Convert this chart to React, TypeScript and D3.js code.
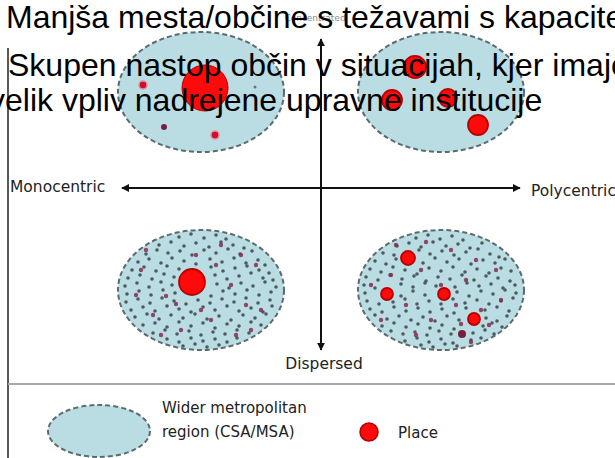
import * as d3 from 'd3';

const W = 615;
const H = 458;

// Title lines (overlaid on the diagram in the source picture)
const TITLE_LINES = [
  { text: 'Manjša mesta/občine s težavami s kapacitetami', x: 6, y: 28 },
  { text: 'Skupen nastop občin v situacijah, kjer imajo', x: 8, y: 76 },
  { text: 'velik vpliv nadrejene upravne institucije', x: -11, y: 111 },
];

// Axis labels
const AXIS_LABELS = { left: 'Monocentric', right: 'Polycentric', top: 'Concentrated', bottom: 'Dispersed' };

// Quadrants: qx -1 = monocentric, +1 = polycentric; qy +1 = concentrated, -1 = dispersed
const PANELS = [
  { id: 'mc', qx: -1, qy: 1 },
  { id: 'pc', qx: 1, qy: 1 },
  { id: 'md', qx: -1, qy: -1 },
  { id: 'pd', qx: 1, qy: -1 },
];

// Places (red circles): [dx, dy, radius] relative to panel centre
const PLACES: Record<string, number[][]> = {
  mc: [[4, -4, 23]],
  pc: [[-26, -25, 11], [-49, 8, 10], [7, 6, 9], [37, 33, 10]],
  md: [[-9, -8, 13]],
  pd: [[-33, -32, 7], [-54, 4, 6], [3, 4, 6], [33, 29, 6]],
};

// Minor places: [dx, dy, r, kind]
const MINOR_MC = [
  [-58, -7, 4, 'red'],
  [-37, 35, 3, 'maroon'],
  [14, 43, 4, 'red'],
  [54, -5, 1.5, 'grey'],
];
const MINOR_PD = [[21, 44, 4, 'maroon']];

// Scattered small settlements in the dispersed regions
const DOTS_MD = [
  [-22, -53], [-10, -56], [3, -52], [15, -55], [25, -51],
  [-42, -45], [-30, -48], [-17, -44], [-5, -47], [8, -43], [20, -48], [32, -45], [43, -42],
  [-55, -36], [-44, -40], [-33, -37], [-21, -39], [-9, -35], [3, -40], [15, -37], [27, -41], [39, -36], [51, -39],
  [-63, -28], [-52, -31], [-40, -27], [-29, -32], [-17, -29], [-5, -26], [9, -31], [21, -28], [33, -32], [45, -27], [57, -30], [64, -25],
  [-69, -20], [-57, -23], [-45, -19], [-34, -24], [-22, -21], [10, -23], [22, -19], [34, -22], [46, -24], [58, -20], [68, -17],
  [-73, -12], [-61, -15], [-49, -11], [-37, -16], [-27, -13], [14, -15], [26, -11], [38, -14], [50, -17], [62, -12], [72, -10],
  [-76, -4], [-64, -7], [-52, -3], [-40, -8], [-29, -5], [16, -6], [28, -2], [40, -7], [52, -4], [64, -8], [75, -3],
  [-74, 4], [-62, 1], [-50, 5], [-38, 0], [-26, 3], [10, 6], [22, 1], [34, 4], [46, 0], [58, 5], [70, 2],
  [-75, 12], [-63, 9], [-51, 13], [-39, 8], [-27, 11], [-15, 14], [-3, 10], [9, 13], [21, 9], [33, 12], [45, 8], [57, 13], [69, 10],
  [-70, 20], [-58, 17], [-46, 21], [-34, 16], [-22, 19], [-10, 22], [2, 17], [14, 20], [26, 16], [38, 21], [50, 18], [62, 22], [71, 16],
  [-66, 27], [-54, 24], [-42, 29], [-30, 25], [-18, 28], [-6, 24], [6, 29], [18, 26], [30, 30], [42, 25], [54, 28], [65, 24],
  [-58, 35], [-46, 33], [-34, 37], [-22, 32], [-10, 36], [2, 33], [14, 38], [26, 34], [38, 36], [50, 32], [60, 35],
  [-48, 43], [-36, 40], [-24, 44], [-12, 41], [0, 45], [12, 42], [24, 44], [36, 40], [48, 43],
  [-34, 49], [-22, 52], [-10, 48], [2, 51], [14, 49], [26, 52], [36, 48],
  [-18, 56], [-6, 54], [6, 57], [18, 55],
];
const MAROON_MD = [
  [-60, -20], [-35, 6], [-48, 25], [-20, 40], [10, 30], [30, -5], [45, 15], [55, -25], [-5, -35], [20, -45],
  [-40, 45], [60, 20], [-65, 5], [35, 45], [0, 20], [15, -25], [-25, 14], [50, 40], [-55, -40], [40, -35],
];

const DOTS_PD = [
  [-25, -52], [-13, -55], [-1, -51], [11, -54], [22, -50],
  [-44, -44], [-32, -47], [-20, -43], [-8, -48], [5, -44], [17, -46], [29, -42], [41, -47],
  [-58, -37], [-47, -35], [-22, -40], [-11, -36], [1, -39], [13, -35], [25, -38], [37, -41], [49, -36], [58, -33],
  [-66, -29], [-55, -26], [-45, -31], [-18, -27], [-6, -32], [6, -28], [18, -31], [30, -26], [42, -30], [54, -27], [64, -31],
  [-71, -21], [-60, -18], [-48, -23], [-36, -20], [-24, -16], [-12, -22], [0, -19], [12, -23], [24, -18], [36, -21], [48, -17], [60, -22], [70, -19],
  [-75, -13], [-63, -10], [-51, -15], [-39, -11], [-27, -14], [-15, -9], [-3, -13], [9, -11], [21, -15], [33, -10], [45, -14], [57, -12], [69, -9],
  [-77, -5], [-66, -2], [-40, -6], [-28, -3], [-16, -7], [-5, -4], [14, -3], [26, -7], [38, -4], [50, -6], [62, -2], [74, -5],
  [-76, 3], [-40, 6], [-28, 1], [-16, 5], [16, 2], [28, 6], [40, 1], [52, 4], [64, 0], [75, 3],
  [-74, 11], [-62, 14], [-48, 12], [-36, 9], [-24, 14], [-12, 11], [0, 14], [12, 9], [24, 13], [36, 10], [48, 14], [60, 11], [72, 8],
  [-71, 19], [-59, 22], [-47, 17], [-35, 21], [-23, 18], [-11, 22], [1, 19], [13, 23], [25, 18], [44, 20], [56, 17], [68, 21],
  [-66, 25], [-54, 29], [-42, 26], [-30, 30], [-18, 27], [-6, 31], [6, 26], [18, 30], [45, 28], [56, 31], [66, 26],
  [-59, 36], [-47, 33], [-35, 37], [-23, 34], [-11, 38], [1, 35], [13, 39], [42, 36], [51, 33], [61, 37],
  [-50, 41], [-38, 44], [-26, 42], [-14, 45], [-2, 41], [10, 44], [32, 43], [44, 40], [53, 44],
  [-36, 51], [-24, 48], [-12, 52], [0, 49], [12, 53], [30, 50], [40, 48],
  [-20, 55], [-8, 57], [4, 54], [16, 56],
];
const MAROON_PD = [
  [-50, -15], [-20, -20], [10, -40], [25, -10], [-35, 15], [40, 20], [-10, 30], [55, -20], [20, 34], [-60, 30],
  [-45, -45], [0, -5], [35, -30], [60, 10], [-25, 45], [15, 15], [-70, -5], [48, 35], [-15, -48], [30, 52],
];

const LEGEND = [
  { kind: 'region', lines: ['Wider metropolitan', 'region (CSA/MSA)'] },
  { kind: 'place', lines: ['Place'] },
];

const REGION_FILL = '#b9dde3';
const REGION_STROKE = '#5c6b70';
const PLACE_FILL = '#ff0a0a';
const PLACE_STROKE = '#b80000';
const LABEL_FONT = '"DejaVu Sans", Verdana, sans-serif';
const TITLE_FONT = '"Liberation Sans", Arial, sans-serif';

const MINOR_COLORS: Record<string, string> = { red: '#c8102e', maroon: '#7a1e3e', grey: '#6b7478' };

// axes of the diagram
const ORIGIN_X = 321;
const ORIGIN_Y = 188;
const xAxis = d3.scaleLinear().domain([-1, 1]).range([122, 520]);
const yAxis = d3.scaleLinear().domain([-1, 1]).range([350, 39]);
const PANEL_DX = 120;
const PANEL_UP = 96;
const PANEL_DOWN = 102;
const RX = 83;
const RY = 60;

function Region({ cx, cy }: { cx: number; cy: number }) {
  return (
    <ellipse cx={cx} cy={cy} rx={RX} ry={RY} fill={REGION_FILL} stroke={REGION_STROKE}
      strokeWidth={2} strokeDasharray="5 3" />
  );
}

export default function App() {
  const panelCentre = (p: { qx: number; qy: number }) => ({
    cx: ORIGIN_X + p.qx * PANEL_DX,
    cy: p.qy > 0 ? ORIGIN_Y - PANEL_UP : ORIGIN_Y + PANEL_DOWN,
  });

  return (
    <svg width={W} height={H} style={{ position: 'absolute', left: 0, top: 0, background: '#fff' }}>
      <defs>
        <marker id="arrow" viewBox="0 0 10 10" refX="9" refY="5" markerWidth="4" markerHeight="4" orient="auto-start-reverse">
          <path d="M0,0 L10,5 L0,10 z" fill="#111" />
        </marker>
      </defs>
      <rect width={W} height={H} fill="#fff" />

      {PANELS.map((p) => {
        const { cx, cy } = panelCentre(p);
        const sx = d3.scaleLinear().domain([-RX, RX]).range([cx - RX, cx + RX]);
        const sy = d3.scaleLinear().domain([-RY, RY]).range([cy - RY, cy + RY]);
        const grey = p.id === 'md' ? DOTS_MD : p.id === 'pd' ? DOTS_PD : [];
        const maroon = p.id === 'md' ? MAROON_MD : p.id === 'pd' ? MAROON_PD : [];
        const minor = p.id === 'mc' ? MINOR_MC : p.id === 'pd' ? MINOR_PD : [];
        return (
          <g key={p.id}>
            <Region cx={cx} cy={cy} />
            {grey.map((d, i) => (
              <circle key={'g' + i} cx={sx(d[0])} cy={sy(d[1])} r={1.8} fill="#4f5a5e" />
            ))}
            {maroon.map((d, i) => (
              <circle key={'m' + i} cx={sx(d[0])} cy={sy(d[1])} r={2.2} fill="#8a2a4c" opacity={0.85} />
            ))}
            {minor.map((d, i) => (
              <circle key={'n' + i} cx={sx(d[0] as number)} cy={sy(d[1] as number)} r={d[2] as number}
                fill={MINOR_COLORS[d[3] as string]} stroke={d[3] === 'red' ? '#e88a96' : 'none'} strokeWidth={1.5} />
            ))}
            {PLACES[p.id].map((d, i) => (
              <circle key={'p' + i} cx={sx(d[0])} cy={sy(d[1])} r={d[2]} fill={PLACE_FILL}
                stroke={PLACE_STROKE} strokeWidth={d[2] > 15 ? 1 : 1.8} />
            ))}
          </g>
        );
      })}

      {/* axes */}
      <line x1={ORIGIN_X} x2={xAxis(-1)} y1={ORIGIN_Y} y2={ORIGIN_Y} stroke="#111" strokeWidth={2} markerEnd="url(#arrow)" />
      <line x1={ORIGIN_X} x2={xAxis(1)} y1={ORIGIN_Y} y2={ORIGIN_Y} stroke="#111" strokeWidth={2} markerEnd="url(#arrow)" />
      <line x1={ORIGIN_X} x2={ORIGIN_X} y1={ORIGIN_Y} y2={yAxis(1)} stroke="#111" strokeWidth={2} markerEnd="url(#arrow)" />
      <line x1={ORIGIN_X} x2={ORIGIN_X} y1={ORIGIN_Y} y2={yAxis(-1)} stroke="#111" strokeWidth={2} markerEnd="url(#arrow)" />

      <g fontFamily={LABEL_FONT} fontSize={15.5} fill="#222">
        <text x={10} y={192}>{AXIS_LABELS.left}</text>
        <text x={531} y={196}>{AXIS_LABELS.right}</text>
        <text x={324} y={369} textAnchor="middle">{AXIS_LABELS.bottom}</text>
        <text x={315} y={21} textAnchor="middle" fontSize={9} fill="#8a8a8a">{AXIS_LABELS.top}</text>
      </g>

      {/* frame lines */}
      <line x1={8} x2={8} y1={48} y2={H} stroke="#222" strokeWidth={1.5} />
      <line x1={8} x2={W} y1={384} y2={384} stroke="#a8a8a8" strokeWidth={2} />

      {/* legend */}
      <g fontFamily={LABEL_FONT} fontSize={15} fill="#222">
        {LEGEND.map((item) =>
          item.kind === 'region' ? (
            <g key={item.kind}>
              <ellipse cx={99} cy={431} rx={51} ry={26} fill={REGION_FILL} stroke={REGION_STROKE}
                strokeWidth={2} strokeDasharray="5 3" />
              {item.lines.map((l, i) => (
                <text key={l} x={162} y={413 + i * 24}>{l}</text>
              ))}
            </g>
          ) : (
            <g key={item.kind}>
              <circle cx={369} cy={432} r={9} fill={PLACE_FILL} stroke={PLACE_STROKE} strokeWidth={1.5} />
              <text x={398} y={438}>{item.lines[0]}</text>
            </g>
          )
        )}
      </g>

      {/* title text overlaid */}
      <g fontFamily={TITLE_FONT} fontSize={32} fill="#000">
        {TITLE_LINES.map((t) => (
          <text key={t.text} x={t.x} y={t.y}>{t.text}</text>
        ))}
      </g>
    </svg>
  );
}
